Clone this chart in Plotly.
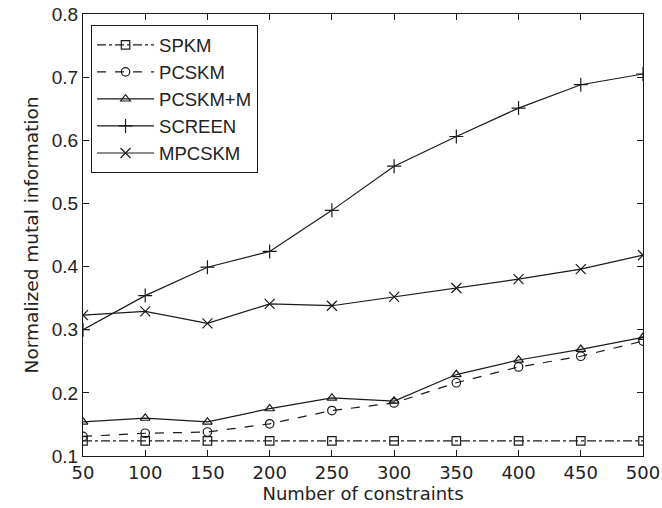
import plotly.graph_objects as go

constraints = [50, 100, 150, 200, 250, 300, 350, 400, 450, 500]
spkm = [0.124, 0.124, 0.124, 0.124, 0.124, 0.124, 0.124, 0.124, 0.124, 0.124]
pcskm = [0.131, 0.136, 0.138, 0.151, 0.172, 0.184, 0.216, 0.241, 0.258, 0.282]
pcskm_m = [0.154, 0.160, 0.154, 0.175, 0.192, 0.187, 0.229, 0.252, 0.269, 0.288]
screen = [0.300, 0.354, 0.399, 0.424, 0.489, 0.559, 0.606, 0.651, 0.688, 0.705]
mpcskm = [0.323, 0.329, 0.310, 0.341, 0.338, 0.352, 0.366, 0.380, 0.396, 0.418]
y_ticks = [0.1, 0.2, 0.3, 0.4, 0.5, 0.6, 0.7, 0.8]

series = [
    ("SPKM", spkm, "dashdot", "square-open"),
    ("PCSKM", pcskm, "dash", "circle-open"),
    ("PCSKM+M", pcskm_m, "solid", "triangle-up-open"),
    ("SCREEN", screen, "solid", "cross-thin"),
    ("MPCSKM", mpcskm, "solid", "x-thin"),
]

INK = "#1a1a1a"
fig = go.Figure()
for name, vals, dash, sym in series:
    fig.add_trace(go.Scatter(
        x=constraints, y=vals, name=name, mode="lines+markers",
        line=dict(color=INK, width=1.2, dash=dash),
        marker=dict(symbol=sym, size=10 if "thin" in sym else 8.5,
                    color=INK, line=dict(color=INK, width=1.2)),
    ))

axis_common = dict(
    showline=True, linecolor=INK, linewidth=1.2, mirror="ticks",
    ticks="inside", ticklen=6, tickwidth=1.2, tickcolor=INK,
    showgrid=False, zeroline=False, automargin=False,
)

fig.update_layout(
    width=662, height=508,
    margin=dict(l=83, r=19, t=14, b=52),
    paper_bgcolor="white", plot_bgcolor="white",
    xaxis=dict(range=[50, 500], tickvals=constraints,
               tickfont=dict(family="DejaVu Sans", size=18, color="#222"),
               title=dict(text="Number of constraints", standoff=4,
                          font=dict(family="DejaVu Sans", size=18, color="#222")),
               **axis_common),
    yaxis=dict(range=[0.1, 0.8], tickvals=y_ticks, tickformat=".1f",
               tickfont=dict(family="Liberation Sans, Arial", size=19, color="#222"),
               title=dict(text="Normalized mutal information", standoff=8,
                          font=dict(family="DejaVu Sans", size=18.5, color="#222")),
               **axis_common),
    legend=dict(x=0.014, y=0.975, xanchor="left", yanchor="top",
                bgcolor="white", bordercolor=INK, borderwidth=1.2,
                font=dict(family="Liberation Sans, Arial", size=18.5, color="#222"),
                tracegroupgap=0, itemwidth=57),
    showlegend=True,
)

fig.write_html("out.html")
